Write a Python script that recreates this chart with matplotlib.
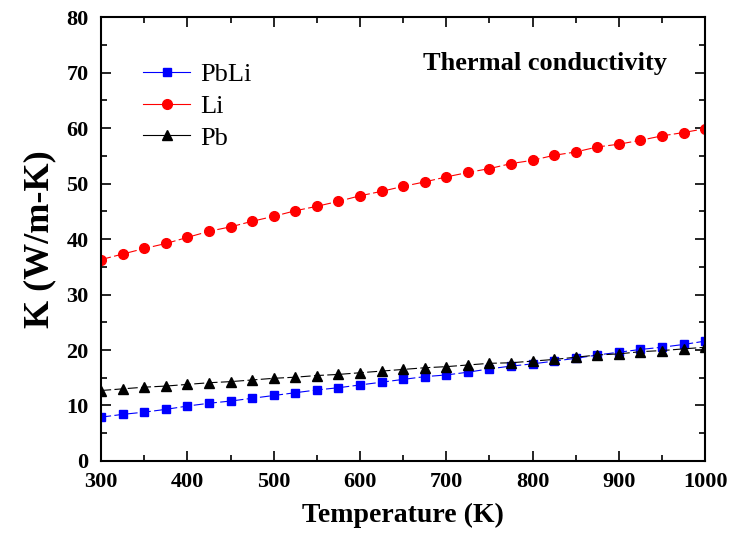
import matplotlib
matplotlib.use("Agg")
import matplotlib.pyplot as plt
from matplotlib.lines import Line2D
from matplotlib.ticker import MultipleLocator

plt.rcParams['font.family'] = ['Liberation Serif', 'DejaVu Serif']

temp = [300, 325, 350, 375, 400, 425, 450, 475, 500, 525, 550, 575, 600, 625, 650,
        675, 700, 725, 750, 775, 800, 825, 850, 875, 900, 925, 950, 975, 1000]

k_pbli = [7.9, 8.4, 8.8, 9.3, 9.9, 10.4, 10.8, 11.3, 11.8, 12.3, 12.8, 13.2, 13.7, 14.2, 14.7,
          15.2, 15.5, 16.0, 16.6, 17.1, 17.5, 18.0, 18.5, 19.1, 19.6, 20.1, 20.5, 21.0, 21.6]

k_li = [36.3, 37.3, 38.3, 39.2, 40.3, 41.4, 42.2, 43.2, 44.1, 45.1, 45.9, 46.8, 47.8, 48.6, 49.5,
        50.3, 51.2, 52.0, 52.7, 53.6, 54.2, 55.1, 55.7, 56.6, 57.1, 57.8, 58.6, 59.2, 59.9]

k_pb = [12.7, 13.0, 13.3, 13.5, 13.8, 14.1, 14.3, 14.6, 14.9, 15.1, 15.4, 15.6, 15.9, 16.2, 16.5,
        16.8, 17.0, 17.3, 17.6, 17.7, 18.0, 18.3, 18.7, 19.1, 19.3, 19.7, 19.9, 20.2, 20.5]

labels = ['PbLi', 'Li', 'Pb']
colors = ['blue', 'red', 'black']
markers = ['s', 'o', '^']
sizes = [6, 7, 7.5]

fig = plt.figure(figsize=(7.33, 5.36), dpi=100)
ax = fig.add_axes([0.138, 0.14, 0.824, 0.828])

dash = (0, (9, 3))
for ys, lab, c, m, s in zip([k_pbli, k_li, k_pb], labels, colors, markers, sizes):
    ax.plot(temp, ys, color=c, ls=dash, lw=0.8, marker=m, ms=s, label=lab)

ax.set_xlim(300, 1000)
ax.set_ylim(0, 80)
ax.xaxis.set_major_locator(MultipleLocator(100))
ax.xaxis.set_minor_locator(MultipleLocator(50))
ax.yaxis.set_major_locator(MultipleLocator(10))
ax.yaxis.set_minor_locator(MultipleLocator(5))

ax.tick_params(which='both', direction='in', top=True, right=True, width=1.2)
ax.tick_params(which='major', length=7)
ax.tick_params(which='minor', length=4)
ax.tick_params(axis='x', pad=8)
ax.tick_params(axis='y', pad=9)
for lab in ax.get_xticklabels() + ax.get_yticklabels():
    lab.set_fontsize(16)
    lab.set_fontweight('bold')
for sp in ax.spines.values():
    sp.set_linewidth(1.5)

ax.set_xlabel('Temperature (K)', fontsize=20, fontweight='bold', labelpad=8)
ax.set_ylabel('K (W/m-K)', fontsize=26, fontweight='bold', labelpad=7)

ax.text(814, 71.7, 'Thermal conductivity', fontsize=19, fontweight='bold',
        ha='center', va='center')

# legend with solid line segments through the markers
handles = [Line2D([], [], color=c, lw=0.8, marker=m, ms=s)
           for c, m, s in zip(colors, markers, sizes)]
ax.legend(handles, labels, loc='upper left', bbox_to_anchor=(0.07, 0.897), frameon=False,
          fontsize=19, handlelength=1.78, handletextpad=0.38, labelspacing=0.31,
          borderaxespad=0, borderpad=0)

fig.savefig('out.png', dpi=100)
